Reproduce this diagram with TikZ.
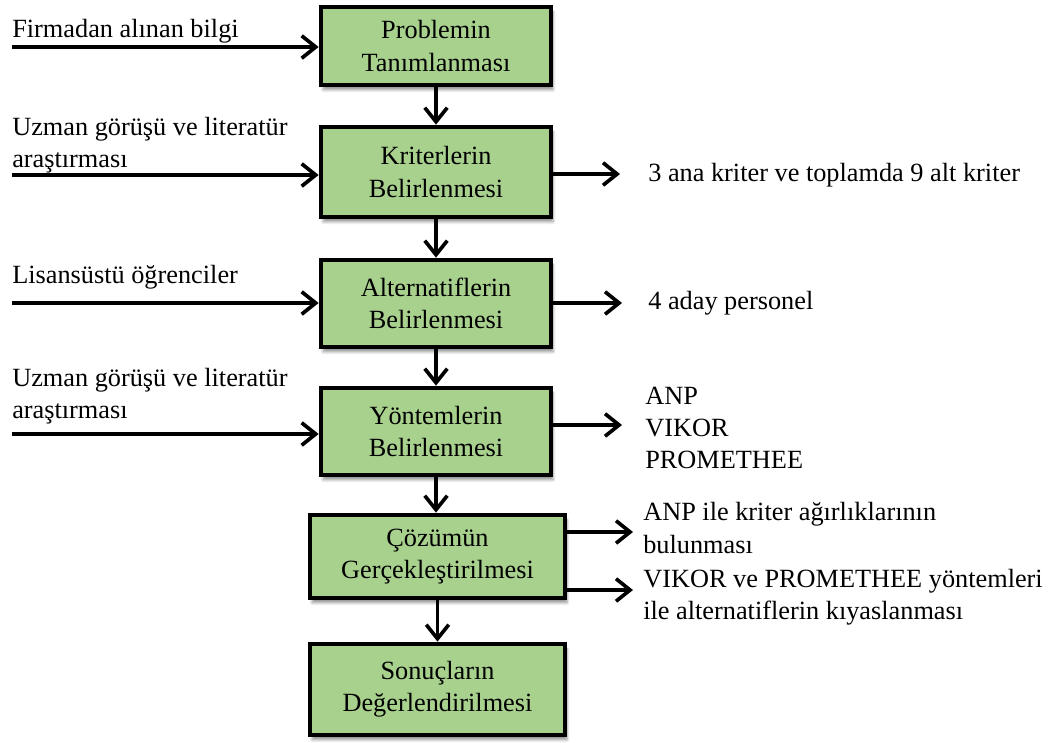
\documentclass[tikz,border=0pt]{standalone}
\usepackage{fontspec}
\setmainfont{Liberation Serif}
\usepackage{xcolor}
\usetikzlibrary{arrows.meta,shadows.blur}

\definecolor{kutu}{RGB}{169,209,142}
\tikzset{
	adim/.style={draw=black, line width=3.3pt, fill=kutu, align=center, inner sep=0pt,
		blur shadow={shadow xshift=1.5pt, shadow yshift=-3.5pt, shadow blur steps=6, shadow opacity=40}},
	ok/.style={line width=2.6pt, -{Straight Barb[length=10pt,width=16pt]}},
	yazi/.style={inner sep=0pt, align=left, anchor=west},
}

\begin{document}
\begin{tikzpicture}[x=0.025cm, y=-0.025cm, every node/.style={font=\fontsize{18.7}{23}\selectfont}]
		\useasboundingbox (0,0) rectangle (1050,742);
		% kutular
		\node[adim, minimum width=5.75cm, minimum height=1.95cm] (B1) at (436,46) {Problemin\\Tanımlanması};
		\node[adim, minimum width=5.75cm, minimum height=2.25cm] (B2) at (436,172) {Kriterlerin\\Belirlenmesi};
		\node[adim, minimum width=5.75cm, minimum height=2.175cm] (B3) at (436,303.5) {Alternatiflerin\\Belirlenmesi};
		\node[adim, minimum width=5.75cm, minimum height=2.175cm] (B4) at (436,431.5) {Yöntemlerin\\Belirlenmesi};
		\node[adim, minimum width=6.375cm, minimum height=2.075cm] (B5) at (437.5,556.5) {Çözümün\\Gerçekleştirilmesi};
		\node[adim, minimum width=6.375cm, minimum height=2.275cm] (B6) at (437.5,689.5) {Sonuçların\\Değerlendirilmesi};
		%
		\path[ok]
		(B1.south) edge (B1.south |- B2.north)
		(B2.south) edge (B2.south |- B3.north)
		(B3.south) edge (B3.south |- B4.north)
		(B4.south) edge (B4.south |- B5.north)
		(B5.south) edge (B5.south |- B6.north);
		% girdiler
		\node[yazi] (L1) at (12,31) {Firmadan alınan bilgi};
		\node[yazi] (L2) at (12,145) {Uzman görüşü ve literatür\\araştırması};
		\node[yazi] (L3) at (12,277) {Lisansüstü öğrenciler};
		\node[yazi] (L4) at (12,396) {Uzman görüşü ve literatür\\araştırması};
		\coordinate (s1) at (12,47);
		\coordinate (s2) at (12,175);
		\coordinate (s3) at (12,303);
		\coordinate (s4) at (12,434);
		\draw[ok] (s1) -- (s1 -| B1.west);
		\draw[ok] (s2) -- (s2 -| B2.west);
		\draw[ok] (s3) -- (s3 -| B3.west);
		\draw[ok] (s4) -- (s4 -| B4.west);
		% ciktilar
		\node[yazi] (R2) at (648,175) {3 ana kriter ve toplamda 9 alt kriter};
		\node[yazi] (R3) at (648,303) {4 aday personel};
		\node[yazi] (R4) at (645,428) {ANP\\VIKOR\\PROMETHEE};
		\node[yazi] (R5) at (643,528) {ANP ile kriter ağırlıklarının\\bulunması};
		\node[yazi] (R6) at (643,597) {VIKOR ve PROMETHEE yöntemleri\\ile alternatiflerin kıyaslanması};
		\coordinate (t2) at (620,174);
		\coordinate (t3) at (622,303);
		\coordinate (t4) at (622,425);
		\coordinate (t5) at (633,532);
		\coordinate (t6) at (633,590);
		\draw[ok] (B2.east |- t2) -- (t2);
		\draw[ok] (B3.east |- t3) -- (t3);
		\draw[ok] (B4.east |- t4) -- (t4);
		\draw[ok] (B5.east |- t5) -- (t5);
		\draw[ok] (B5.east |- t6) -- (t6);
	\end{tikzpicture}
\end{document}
